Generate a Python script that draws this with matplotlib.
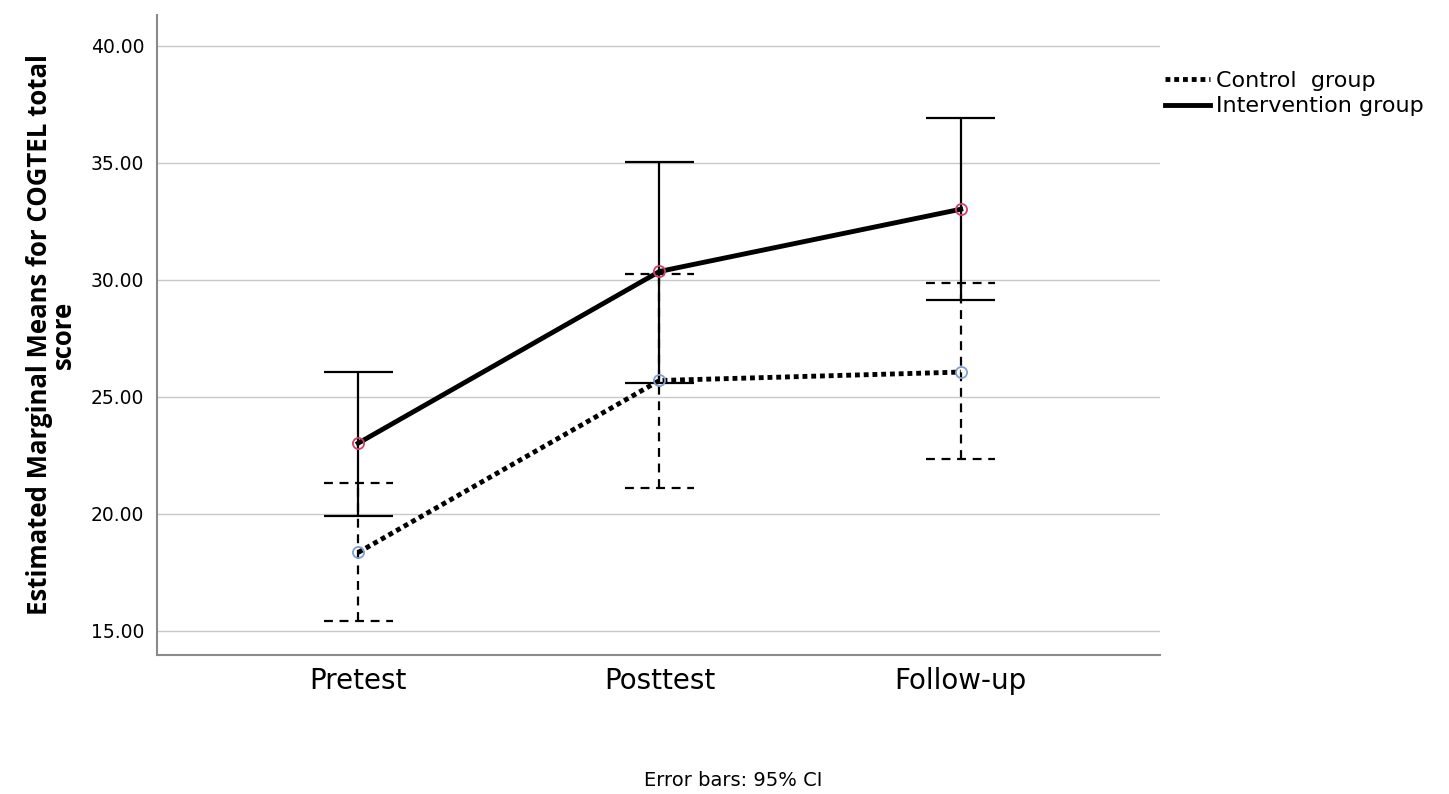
import numpy as np
import matplotlib
matplotlib.use("Agg")
import matplotlib.pyplot as plt
from matplotlib.lines import Line2D

# Dati
time_points = ["Pretest", "Posttest", "Follow-up"]

control_mean = [18.35, 25.70, 26.06]
control_lower = [15.44, 21.12, 22.34]
control_upper = [21.31, 30.26, 29.86]

intervention_mean = [23.02, 30.36, 33.02]
intervention_lower = [19.91, 25.59, 29.13]
intervention_upper = [26.06, 35.05, 36.91]

y_ticks = [15.0, 20.0, 25.0, 30.0, 35.0, 40.0]

fig = plt.figure(figsize=(14.49, 7.94), dpi=100)
ax = fig.add_axes([0.1083, 0.1751, 0.6922, 0.806])

x = np.arange(len(time_points))

def draw_ci(mean, lower, upper, ls):
    mean = np.array(mean)
    err = np.vstack((mean - np.array(lower), np.array(upper) - mean))
    eb = ax.errorbar(x, mean, yerr=err, fmt="none", ecolor="black",
                     elinewidth=1.6, capsize=0, zorder=2)
    for coll in eb[2]:
        coll.set_linestyle(ls)
    # cap orizzontali con lo stesso stile della barra
    for xi, lo, hi in zip(x, lower, upper):
        ax.hlines([lo, hi], xi - 0.115, xi + 0.115, colors="black",
                  linewidth=1.6, linestyles=ls, zorder=2)

draw_ci(control_mean, control_lower, control_upper, (0, (4, 3)))
draw_ci(intervention_mean, intervention_lower, intervention_upper, "solid")

ax.plot(x, control_mean, color="black", linewidth=3.5, linestyle=(0, (1, 0.8)),
        zorder=3)
ax.plot(x, intervention_mean, color="black", linewidth=3.5, linestyle="solid",
        zorder=3)
ax.plot(x, control_mean, linestyle="none", marker="o", markersize=8,
        markerfacecolor="none", markeredgecolor="#7f9fd0", markeredgewidth=1.3,
        zorder=4)
ax.plot(x, intervention_mean, linestyle="none", marker="o", markersize=8,
        markerfacecolor="none", markeredgecolor="#d0406a", markeredgewidth=1.3,
        zorder=4)

ax.set_xlim(-0.668, 2.661)
ax.set_ylim(13.97, 41.32)
ax.set_xticks(x)
ax.set_xticklabels(time_points, fontsize=20)
ax.set_yticks(y_ticks)
ax.set_yticklabels([f"{v:.2f}" for v in y_ticks], fontsize=13.5)
ax.tick_params(axis="both", length=0)
ax.tick_params(axis="x", pad=9)
ax.tick_params(axis="y", pad=9)

ax.grid(axis="y", color="#c8c8c8", linewidth=1.0)
ax.set_axisbelow(True)
for side in ["top", "right"]:
    ax.spines[side].set_visible(False)
for side in ["left", "bottom"]:
    ax.spines[side].set_color("#8a8a8a")
    ax.spines[side].set_linewidth(1.5)

ax.set_ylabel("Estimated Marginal Means for COGTEL total\nscore",
              fontsize=18.5, fontweight="bold", family="Open Sans", labelpad=10,
              linespacing=0.85)

handles = [
    Line2D([0], [0], color="black", linewidth=3.5, linestyle=(0, (1, 0.8))),
    Line2D([0], [0], color="black", linewidth=3.5, linestyle="solid"),
]
fig.legend(handles, ["Control  group", "Intervention group"],
           loc="upper left", bbox_to_anchor=(0.798, 0.922), frameon=False,
           fontsize=16, handlelength=2.0, handletextpad=0.3, labelspacing=0.25,
           borderaxespad=0)

fig.text(0.506, 0.005, "Error bars: 95% CI", ha="center", va="bottom",
         fontsize=14)

fig.savefig("out.png", dpi=100)
